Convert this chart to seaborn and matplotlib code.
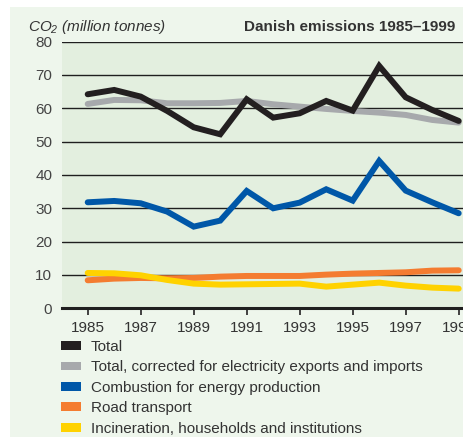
import numpy as np
import pandas as pd
import matplotlib
matplotlib.use('Agg')
import matplotlib.pyplot as plt
from matplotlib.patches import Rectangle, Patch
import seaborn as sns

years = list(range(1985, 2000))
total = [64.2, 65.5, 63.5, 59.2, 54.3, 52.2, 62.7, 57.2, 58.5, 62.2, 59.3, 72.7, 63.3, 59.5, 56.2]
corrected = [61.3, 62.5, 62.4, 61.5, 61.5, 61.6, 62.2, 61.2, 60.5, 59.8, 59.2, 58.7, 58.0, 56.5, 55.7]
combustion = [31.8, 32.2, 31.5, 29.0, 24.5, 26.3, 35.2, 30.0, 31.7, 35.7, 32.3, 44.2, 35.3, 31.8, 28.5]
road = [8.4, 8.9, 9.1, 9.0, 9.1, 9.5, 9.7, 9.7, 9.7, 10.1, 10.4, 10.6, 10.8, 11.3, 11.4]
incineration = [10.6, 10.5, 9.9, 8.5, 7.4, 7.1, 7.2, 7.3, 7.4, 6.5, 7.1, 7.7, 6.8, 6.2, 5.9]

names = ['Total',
         'Total, corrected for electricity exports and imports',
         'Combustion for energy production',
         'Road transport',
         'Incineration, households and institutions']
colors = ['#231f20', '#a7a9ac', '#0057a8', '#f47c30', '#ffd200']

df = pd.DataFrame({
    'year': years * 5,
    'value': total + corrected + combustion + road + incineration,
    'series': sum([[n] * len(years) for n in names], []),
})

sns.set_style('white')
plt.rcParams['font.family'] = ['Liberation Sans', 'DejaVu Sans']
plt.rcParams['mathtext.fontset'] = 'custom'
plt.rcParams['mathtext.it'] = 'Liberation Sans:italic'
plt.rcParams['mathtext.rm'] = 'Liberation Sans:italic'

fig = plt.figure(figsize=(4.64, 4.37), dpi=100)
fig.patch.set_facecolor('white')
fig.patches.append(Rectangle((10 / 464, 0), 1, 1 - 7 / 437, transform=fig.transFigure,
                             facecolor='#eef6ec', edgecolor='none', zorder=-10))

ax = fig.add_axes([62 / 464, 128.7 / 437, 1 - 62 / 464, 266.7 / 437])
ax.set_facecolor('#e3efdf')

sns.lineplot(data=df, x='year', y='value', hue='series', hue_order=names,
             palette=colors, linewidth=4.3, legend=False, ax=ax)
# grey behind black, yellow above orange
for line, z in zip(ax.lines, [4, 3, 4, 4, 5]):
    line.set_zorder(z)
    line.set_solid_joinstyle('miter')

ax.set_xlim(1984.03, 1985 + (464 - 87.7) / 26.5)
ax.set_ylim(0, 80)
ax.set_yticks(range(0, 90, 10))
ax.set_xticks(range(1985, 2000, 2))
for y in range(10, 90, 10):
    ax.axhline(y, color='#1f1f1f', lw=1.0, zorder=1)
for s in ['top', 'right', 'left']:
    ax.spines[s].set_visible(False)
ax.spines['bottom'].set_color('#1f1f1f')
ax.spines['bottom'].set_linewidth(2.2)
ax.spines['bottom'].set_zorder(6)
ax.tick_params(axis='y', length=0, pad=7, labelsize=11, labelcolor='#444444')
ax.tick_params(axis='x', length=5, width=1.3, color='#333333', pad=4,
               labelsize=11, labelcolor='#333333', bottom=True)
ax.set_xlabel('')
ax.set_ylabel('')

fig.text(28 / 464, 1 - 31 / 437, r'$CO_2$ (million tonnes)', fontsize=11,
         style='italic', color='#333333', ha='left', va='baseline')
fig.text(455 / 464, 1 - 31 / 437, 'Danish emissions 1985\u20131999', fontsize=11,
         fontweight='bold', color='#333333', ha='right', va='baseline')

handles = [Patch(facecolor=c, edgecolor='none') for c in colors]
fig.legend(handles, names, loc='upper left', bbox_to_anchor=(61 / 464, 1 - 340 / 437),
           frameon=False, fontsize=11, handlelength=1.3, handleheight=0.5,
           handletextpad=0.65, labelspacing=0.42, borderpad=0, borderaxespad=0,
           labelcolor='#333333')

fig.savefig('out.png', dpi=100)
